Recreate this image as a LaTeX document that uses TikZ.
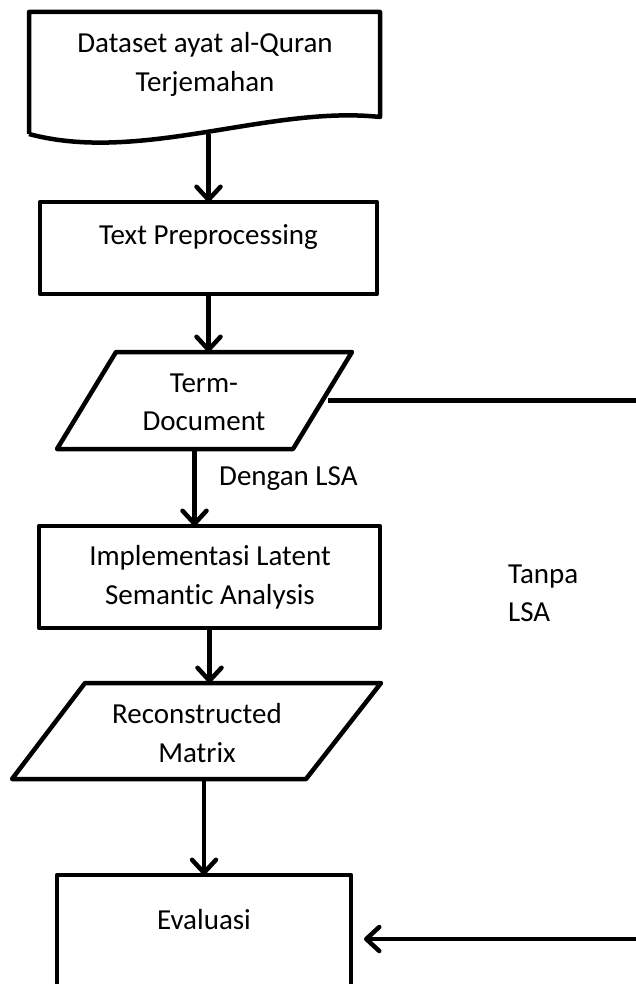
\documentclass[tikz,border=0pt]{standalone}
\usepackage{fontspec}
\setmainfont[Ligatures=NoCommon]{Carlito}
\usetikzlibrary{arrows.meta}
\begin{document}
\begin{tikzpicture}[x=1pt,y=-1pt,
    frame/.style={outer sep=0pt, inner sep=0pt},
    box/.style={frame, draw, line width=4.5pt, line join=round},
    edge/.style={line width=4.5pt, line join=round},
    txt/.style={font=\fontsize{29}{38.5}\selectfont, align=center, inner sep=0pt},
    arr/.style={line width=4.5pt, line join=round, -{Straight Barb[length=13pt,width=24pt,round]}}]
        \clip (0,0) rectangle (636,984);
        \node [frame, minimum width=351pt, minimum height=122pt] (doc) at (204.5,73) {};
        \draw [edge] (doc.south west) -- (doc.north west) -- (doc.north east) -- ([yshift=17pt]doc.south east) .. controls +(-110,-12) and +(111,30) .. (doc.south west);
        \node [txt] (doctext) at (205,64.5) {Dataset ayat al-Quran\\Terjemahan};

        \node [box, minimum width=337pt, minimum height=92pt] (tp) at (208.5,248) {};
        \node [txt, anchor=base] (tptext) at (208.5,244) {Text Preprocessing};

        \node [frame, minimum width=295pt, minimum height=97pt] (td) at (204.5,400.5) {};
        \draw [edge] (td.south west) -- ([xshift=59pt]td.north west) -- (td.north east) -- ([xshift=-59pt]td.south east) -- cycle;
        \node [txt] (tdtext) at (204,402.5) {Term-\\Document};
        \node [txt, anchor=base west] (dengan) at (219,485) {Dengan LSA};

        \node [box, minimum width=341pt, minimum height=102pt] (lsa) at (209.5,577) {};
        \node [txt] (lsatext) at (210,577.5) {Implementasi Latent\\Semantic Analysis};
        \node [txt, align=left, anchor=west] (tanpa) at (508,593.5) {Tanpa\\LSA};

        \node [frame, minimum width=369pt, minimum height=96pt] (rm) at (196.5,731) {};
        \draw [edge] (rm.south west) -- ([xshift=73pt]rm.north west) -- (rm.north east) -- ([xshift=-75pt]rm.south east) -- cycle;
        \node [txt] (rmtext) at (197,733) {Reconstructed\\Matrix};

        \node [box, minimum width=294pt, minimum height=128pt] (ev) at (204,939) {};
        \node [txt, anchor=base] (evtext) at (204,929) {Evaluasi};

        \coordinate (bend) at (660,0);
        \draw [arr] (tp.north |- doc.south) -- (tp.north);
        \draw [arr] (tp.south) -- (tp.south |- td.north);
        \draw [arr] ([xshift=-10pt]td.south) -- ([xshift=-10pt]td.south |- lsa.north);
        \draw [arr] (lsa.south) -- (lsa.south |- rm.north);
        \draw [arr] (ev.north |- rm.south) -- (ev.north);
        \draw [arr] ([xshift=-24pt]td.east) -- (td.east -| bend) -- (bend |- ev.east) -- ([xshift=13pt]ev.east);
\end{tikzpicture}
\end{document}
